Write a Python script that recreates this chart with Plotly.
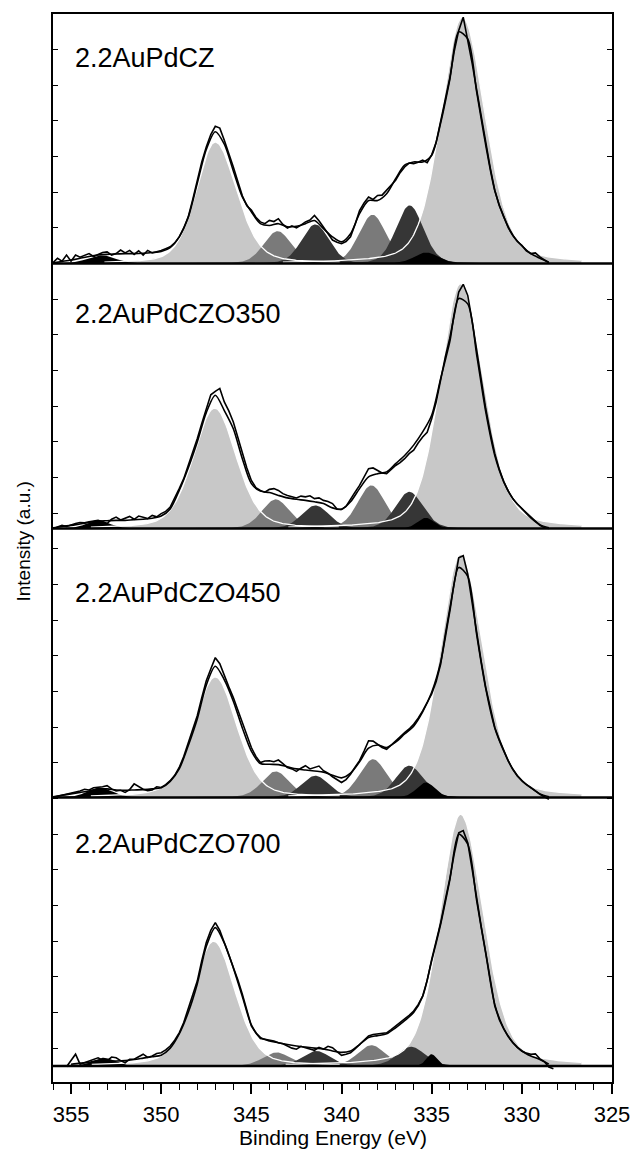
import numpy as np
import plotly.graph_objects as go

# ---------------------------------------------------------------------------
# Pd 3d XPS spectra of four Au-Pd/CeZrO catalysts, stacked with offsets.
# Intensities are in stacking units (one y tick = 1 unit) above each baseline.
# ---------------------------------------------------------------------------
SAMPLES = ["2.2AuPdCZ", "2.2AuPdCZO350", "2.2AuPdCZO450", "2.2AuPdCZO700"]
OFFSETS = [23.0, 15.57, 8.03, 0.5]          # baseline of each spectrum
LABEL_Y = [28.77, 21.59, 13.76, 6.73]       # vertical position of sample names

# measured spectra: 356.00 ... 328.25 eV in 0.25 eV steps (4 points per row = 1 eV)
E_DATA = np.round(np.arange(356.0, 328.24, -0.25), 2)

DATA_CZ = [
    0.03, 0.15, 0.07, 0.24,  0.07, 0.24, 0.18, 0.22,  0.28, 0.20, 0.26, 0.31,
    0.33, 0.24, 0.28, 0.38,  0.30, 0.37, 0.26, 0.36,  0.24, 0.37, 0.30, 0.33,
    0.37, 0.42, 0.47, 0.58,  0.75, 1.00, 1.31, 1.80,  2.34, 2.85, 3.27, 3.62,
    3.85, 3.80, 3.46, 3.10,  2.71, 2.30, 1.90, 1.62,  1.50, 1.30, 1.17, 1.12,
    1.21, 1.18, 1.26, 1.10,  1.00, 1.06, 1.00, 1.08,  1.17, 1.22, 1.35, 1.20,
    1.03, 0.85, 0.66, 0.60,  0.56, 0.62, 0.75, 1.10,  1.49, 1.70, 1.87, 1.80,
    1.91, 1.92, 2.05, 2.18,  2.34, 2.55, 2.71, 2.82,  2.80, 2.84, 2.90, 2.83,
    3.05, 3.40, 4.02, 4.60,  5.19, 5.95, 6.54, 6.91,  6.30, 5.60, 4.86, 4.10,
    3.36, 2.68, 2.05, 1.62,  1.31, 1.00, 0.79, 0.62,  0.51, 0.36, 0.28, 0.30,
    0.19, 0.10, 0.02, None,
]
DATA_CZO350 = [
    0.00, 0.04, 0.09, 0.06,  0.11, 0.14, 0.17, 0.16,  0.19, 0.22, 0.23, 0.19,
    0.14, 0.26, 0.32, 0.24,  0.30, 0.34, 0.26, 0.35,  0.32, 0.28, 0.37, 0.33,
    0.42, 0.48, 0.60, 0.85,  1.12, 1.40, 1.77, 2.15,  2.52, 2.95, 3.36, 3.75,
    3.85, 3.93, 3.55, 3.30,  2.99, 2.55, 2.10, 1.70,  1.35, 1.15, 1.07, 1.02,
    1.10, 1.12, 1.07, 0.98,  0.93, 0.90, 0.86, 0.91,  0.89, 0.92, 0.84, 0.86,
    0.79, 0.76, 0.70, 0.55,  0.54, 0.62, 0.84, 1.02,  1.21, 1.45, 1.68, 1.70,
    1.64, 1.56, 1.54, 1.66,  1.77, 1.85, 1.96, 2.10,  2.20, 2.40, 2.57, 2.70,
    3.08, 3.55, 4.21, 4.80,  5.33, 6.00, 6.63, 6.85,  6.54, 5.80, 4.95, 4.15,
    3.36, 2.70, 2.10, 1.66,  1.31, 1.05, 0.84, 0.68,  0.56, 0.44, 0.33, 0.20,
    0.09, 0.02, 0.00, None,
]
DATA_CZO450 = [
    0.00, 0.03, 0.06, 0.09,  0.11, 0.15, 0.18, 0.23,  0.21, 0.27, 0.28, 0.30,
    0.33, 0.24, 0.18, 0.20,  0.14, 0.22, 0.38, 0.30,  0.23, 0.19, 0.21, 0.30,
    0.28, 0.36, 0.47, 0.62,  0.84, 1.15, 1.54, 1.90,  2.29, 2.80, 3.27, 3.60,
    3.92, 3.75, 3.41, 3.10,  2.80, 2.45, 2.05, 1.70,  1.40, 1.15, 0.98, 1.02,
    1.03, 1.00, 1.05, 0.95,  0.84, 0.80, 0.73, 0.82,  0.89, 0.80, 0.84, 0.88,
    0.75, 0.68, 0.58, 0.50,  0.42, 0.50, 0.65, 0.85,  1.03, 1.30, 1.59, 1.58,
    1.49, 1.40, 1.35, 1.46,  1.59, 1.70, 1.82, 1.92,  2.05, 2.22, 2.43, 2.65,
    2.90, 3.25, 3.74, 4.55,  5.33, 6.00, 6.72, 6.78,  6.26, 5.40, 4.58, 3.80,
    3.08, 2.50, 1.96, 1.62,  1.31, 1.02, 0.79, 0.60,  0.47, 0.36, 0.28, 0.18,
    0.09, 0.02, -0.05, None,
]
DATA_CZO700 = [
    None, None, None, -0.02,  0.14, 0.33, 0.05, 0.10,  0.14, 0.20, 0.23, 0.16,
    0.14, 0.25, 0.23, 0.15,  0.09, 0.19, 0.19, 0.26,  0.33, 0.24, 0.28, 0.35,
    0.37, 0.45, 0.56, 0.72,  0.93, 1.22, 1.59, 1.98,  2.38, 2.95, 3.46, 3.80,
    4.02, 3.80, 3.46, 3.15,  2.80, 2.42, 2.01, 1.55,  1.12, 0.92, 0.77, 0.75,
    0.73, 0.70, 0.65, 0.62,  0.56, 0.50, 0.47, 0.55,  0.51, 0.47, 0.44, 0.52,
    0.47, 0.55, 0.51, 0.40,  0.30, 0.33, 0.37, 0.48,  0.61, 0.74, 0.84, 0.88,
    0.89, 0.91, 0.93, 1.02,  1.12, 1.20, 1.31, 1.42,  1.54, 1.72, 1.96, 2.40,
    2.99, 3.50, 4.02, 4.65,  5.24, 5.95, 6.54, 6.60,  6.26, 5.50, 4.67, 3.90,
    3.18, 2.40, 1.68, 1.30,  1.03, 0.82, 0.65, 0.52,  0.42, 0.36, 0.33, 0.34,
    0.20, 0.12, -0.03, -0.08,
]

# fit envelopes: 356.0 ... 328.5 eV in 0.5 eV steps
E_ENV = np.round(np.arange(356.0, 328.49, -0.5), 1)

ENV_CZ = [
    0.02, 0.06, 0.10, 0.15,  0.20, 0.24, 0.26, 0.27,  0.28, 0.28, 0.29, 0.31,
    0.34, 0.45, 0.75, 1.30,  2.25, 3.20, 3.70, 3.35,  2.60, 1.87, 1.45, 1.12,
    1.07, 1.12, 1.03, 1.05,  1.12, 1.21, 0.98, 0.75,  0.61, 0.84, 1.40, 1.77,
    1.77, 1.96, 2.38, 2.76,  2.85, 2.85, 3.04, 3.95,  5.15, 6.50, 6.30, 4.80,
    3.32, 2.05, 1.31, 0.80,  0.50, 0.28, 0.15, 0.04,
]
ENV_CZO350 = [
    0.02, 0.06, 0.09, 0.13,  0.17, 0.21, 0.22, 0.23,  0.23, 0.25, 0.26, 0.29,
    0.35, 0.55, 1.07, 1.70,  2.43, 3.25, 3.74, 3.31,  2.80, 1.96, 1.26, 1.05,
    1.01, 0.93, 0.86, 0.82,  0.79, 0.75, 0.70, 0.58,  0.54, 0.75, 1.12, 1.45,
    1.54, 1.59, 1.82, 2.05,  2.34, 2.71, 3.18, 4.21,  5.23, 6.45, 6.30, 4.86,
    3.27, 2.05, 1.31, 0.84,  0.56, 0.30, 0.11, 0.02,
]
ENV_CZO450 = [
    0.02, 0.06, 0.10, 0.14,  0.18, 0.24, 0.24, 0.21,  0.20, 0.21, 0.22, 0.24,
    0.27, 0.45, 0.80, 1.45,  2.20, 3.15, 3.68, 3.30,  2.70, 1.95, 1.30, 0.95,
    0.93, 0.92, 0.86, 0.80,  0.77, 0.74, 0.71, 0.62,  0.55, 0.68, 1.00, 1.38,
    1.47, 1.40, 1.55, 1.78,  2.00, 2.40, 2.95, 3.80,  5.20, 6.45, 6.20, 4.55,
    3.05, 1.95, 1.30, 0.79,  0.47, 0.27, 0.10, 0.02,
]
ENV_CZO700 = [
    None, None, 0.05, 0.08,  0.10, 0.15, 0.14, 0.14,  0.15, 0.18, 0.22, 0.26,
    0.30, 0.50, 0.90, 1.50,  2.30, 3.35, 3.88, 3.45,  2.75, 1.95, 1.15, 0.80,
    0.70, 0.65, 0.60, 0.56,  0.53, 0.50, 0.48, 0.42,  0.38, 0.42, 0.60, 0.80,
    0.85, 0.90, 1.07, 1.27,  1.50, 1.95, 2.95, 3.98,  5.20, 6.50, 6.22, 4.62,
    3.15, 1.72, 1.05, 0.66,  0.42, 0.28, 0.18, 0.05,
]

DATA = [DATA_CZ, DATA_CZO350, DATA_CZO450, DATA_CZO700]
ENVELOPES = [ENV_CZ, ENV_CZO350, ENV_CZO450, ENV_CZO700]

# fitted components, per sample: [3d3/2, 3d5/2] positions (eV) and heights
PD0_POS = [[347.00, 333.30], [347.03, 333.40], [347.00, 333.40], [347.09, 333.40]]
PD0_AMP = [[3.41, 6.91], [3.38, 6.87], [3.38, 6.82], [3.50, 7.06]]
PD0_HW_HI = [[1.25, 1.40], [1.40, 1.35], [1.40, 1.35], [1.35, 1.35]]
PD0_HW_LO = [[1.40, 1.50], [1.40, 1.50], [1.40, 1.50], [1.40, 1.50]]

PDO_POS = [[343.55, 338.28], [343.65, 338.34], [343.65, 338.25], [343.60, 338.34]]
PDO_AMP = [[0.91, 1.37], [0.82, 1.21], [0.73, 1.07], [0.38, 0.58]]

PDO2_POS = [[341.45, 336.22], [341.45, 336.24], [341.45, 336.24], [341.40, 336.14]]
PDO2_AMP = [[1.10, 1.63], [0.65, 1.03], [0.61, 0.89], [0.42, 0.54]]

SAT_POS = [[353.30, 335.30], [353.50, 335.32], [353.40, 335.32], [353.20, 335.00]]
SAT_AMP = [[0.23, 0.31], [0.23, 0.30], [0.28, 0.42], [0.23, 0.33]]
SAT_HW = [[0.90, 0.80], [0.75, 0.55], [0.80, 0.60], [0.70, 0.35]]

OX_HW = 0.9          # half width at half maximum of oxidised Pd components
ETA_METAL = 0.30     # Lorentzian fraction, metallic Pd
ETA_OX = 0.20        # Lorentzian fraction, other components

C_METAL = "#c8c8c8"
C_PDO = "#7a7a7a"
C_PDO2 = "#363636"
C_SAT = "#000000"

E_FIT = np.round(np.arange(356.0, 326.69, -0.05), 3)   # fitting window


def pseudo_voigt(e, pos, amp, hw_hi, hw_lo, eta):
    """Split Gaussian-Lorentzian sum line shape."""
    hw = np.where(e >= pos, hw_hi, hw_lo)
    u = (e - pos) / hw
    return amp * (eta / (1.0 + u ** 2) + (1.0 - eta) * np.exp(-np.log(2.0) * u ** 2))


def fill_trace(curve, off, color):
    xs = np.concatenate([E_FIT, [E_FIT[-1], E_FIT[0]]])
    ys = np.concatenate([off + curve, [off, off]])
    return go.Scatter(x=xs, y=ys, mode="lines", fill="toself", fillcolor=color,
                      line=dict(width=0), hoverinfo="skip", showlegend=False)


def shifted(values, off):
    return [None if v is None else v + off for v in values]


fig = go.Figure()

for p, off in enumerate(OFFSETS):
    metal = [pseudo_voigt(E_FIT, PD0_POS[p][k], PD0_AMP[p][k],
                          PD0_HW_HI[p][k], PD0_HW_LO[p][k], ETA_METAL) for k in range(2)]
    pdo = [pseudo_voigt(E_FIT, PDO_POS[p][k], PDO_AMP[p][k], OX_HW, OX_HW, ETA_OX)
           for k in range(2)]
    pdo2 = [pseudo_voigt(E_FIT, PDO2_POS[p][k], PDO2_AMP[p][k], OX_HW, OX_HW, ETA_OX)
            for k in range(2)]
    sat = [pseudo_voigt(E_FIT, SAT_POS[p][k], SAT_AMP[p][k], SAT_HW[p][k], SAT_HW[p][k], ETA_OX)
           for k in range(2)]

    for curves, color in ((metal, C_METAL), (pdo, C_PDO), (pdo2, C_PDO2), (sat, C_SAT)):
        for c in curves:
            fig.add_trace(fill_trace(c, off, color))

    # outline of the metallic doublet, visible where it runs over darker fills
    for c in metal:
        ys = np.where(c > 0.04, off + c, np.nan)
        fig.add_trace(go.Scatter(x=E_FIT, y=ys, mode="lines",
                                 line=dict(color="white", width=1.3),
                                 hoverinfo="skip", showlegend=False))

    fig.add_trace(go.Scatter(x=E_ENV, y=shifted(ENVELOPES[p], off), mode="lines",
                             line=dict(color="black", width=1.6, shape="spline", smoothing=0.8),
                             hoverinfo="skip", showlegend=False))
    fig.add_trace(go.Scatter(x=E_DATA, y=shifted(DATA[p], off), mode="lines",
                             line=dict(color="black", width=1.6),
                             hoverinfo="skip", showlegend=False))

shapes = [dict(type="line", xref="x", yref="y", x0=356, x1=325, y0=off, y1=off,
               line=dict(color="black", width=2.5), layer="above") for off in OFFSETS]

annotations = [dict(text=name, xref="paper", x=0.0363, xanchor="left",
                    yref="y", y=ly, yanchor="middle", showarrow=False,
                    font=dict(size=27, color="black"))
               for name, ly in zip(SAMPLES, LABEL_Y)]
annotations.append(dict(text="Binding Energy (eV)", xref="paper", x=0.5, xanchor="center",
                        yref="paper", y=-0.0515, yanchor="middle", showarrow=False,
                        font=dict(size=21, color="black")))
annotations.append(dict(text="Intensity (a.u.)", xref="paper", x=-0.0545, xanchor="center",
                        yref="paper", y=0.5056, yanchor="middle", showarrow=False,
                        textangle=-90, font=dict(size=19, color="black")))

fig.update_layout(
    width=642, height=1150,
    margin=dict(l=53, r=24, t=14, b=68),
    paper_bgcolor="white", plot_bgcolor="white",
    showlegend=False,
    font=dict(family="Liberation Sans, Arial, sans-serif", color="black"),
    shapes=shapes,
    annotations=annotations,
    xaxis=dict(range=[356, 325], tickmode="linear", tick0=325, dtick=5,
               ticks="outside", ticklen=10, tickwidth=1.5, tickcolor="black",
               ticklabelstandoff=2,
               showline=True, linecolor="black", linewidth=2, mirror=True,
               showgrid=False, zeroline=False, tickfont=dict(size=22),
               minor=dict(tickmode="linear", tick0=325, dtick=1, ticks="outside",
                          ticklen=6, tickwidth=1.3, tickcolor="black", showgrid=False)),
    yaxis=dict(range=[0.05, 30], tickmode="linear", tick0=0, dtick=1,
               ticks="inside", ticklen=5, tickwidth=1.3, tickcolor="black",
               showline=True, linecolor="black", linewidth=2, mirror="ticks",
               showticklabels=False, showgrid=False, zeroline=False),
)

fig.write_html("out.html")
